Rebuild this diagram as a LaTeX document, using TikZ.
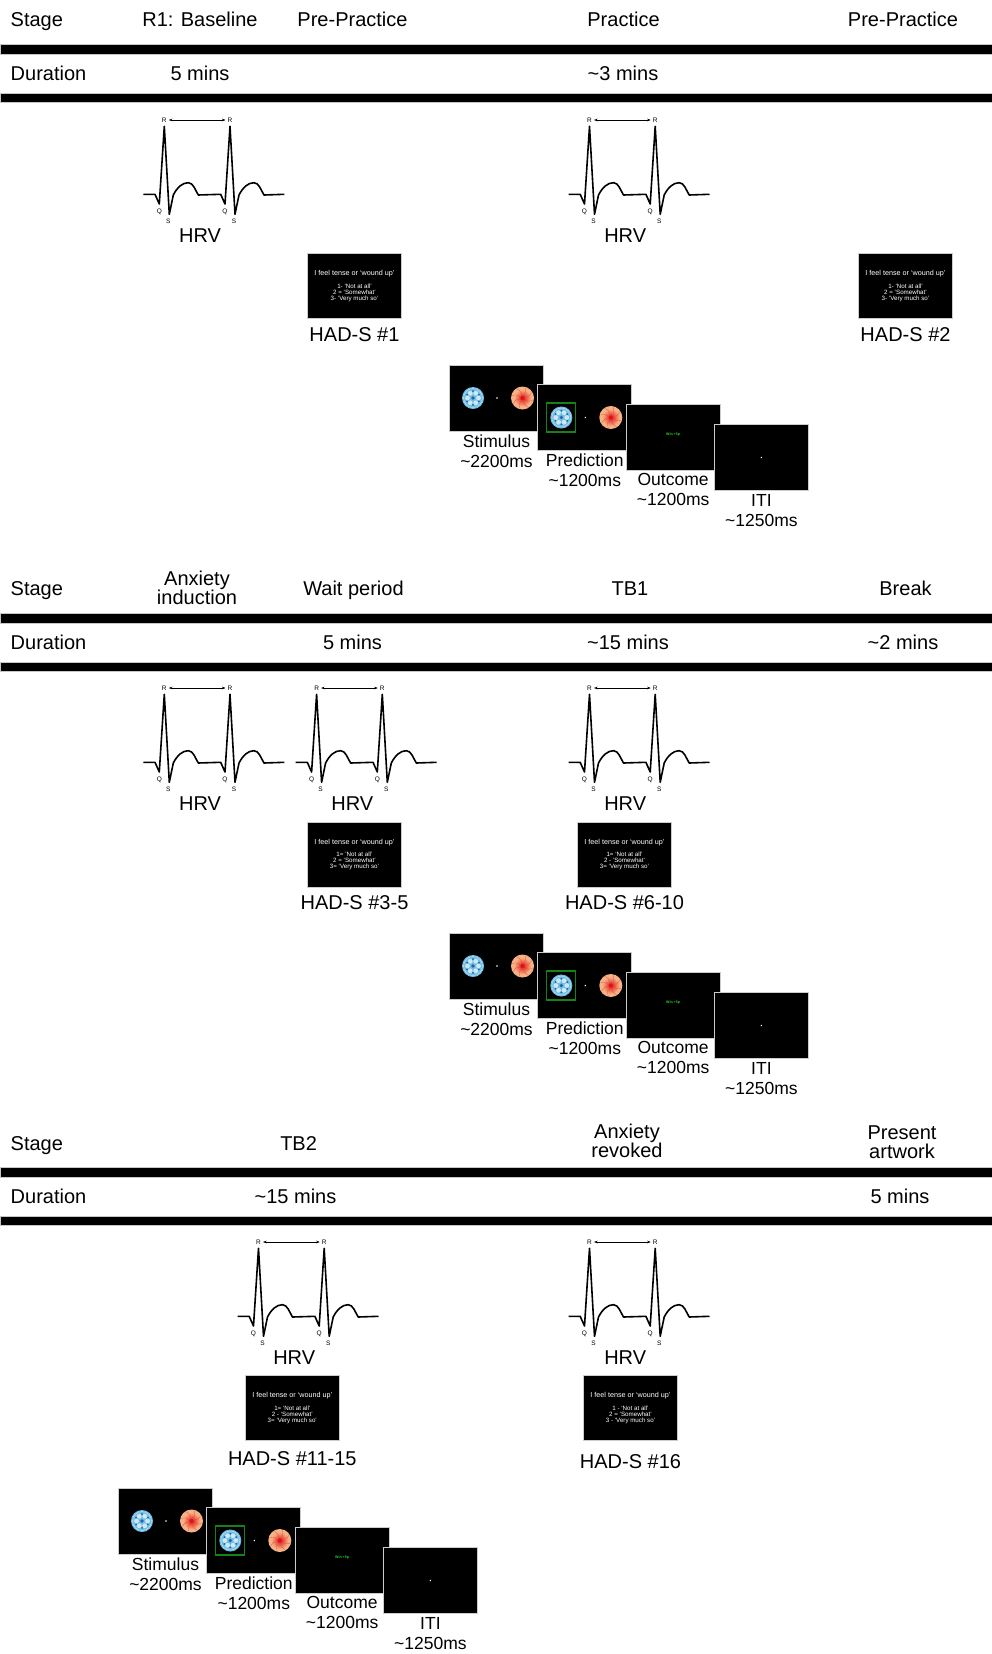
\documentclass[tikz,border=0pt]{standalone}
\usepackage{fontspec}
\setmainfont{Liberation Sans}
\usetikzlibrary{arrows.meta,positioning}
\definecolor{ballblue}{RGB}{112,190,228}
\definecolor{balldark}{RGB}{40,95,170}
\definecolor{peach}{RGB}{246,178,132}
\definecolor{ballred}{RGB}{225,20,20}
\definecolor{pickgreen}{RGB}{20,130,20}
\definecolor{wingreen}{RGB}{40,210,40}

\begin{document}
\begin{tikzpicture}[
  x=1pt, y=-1pt,
  every node/.style={inner sep=0pt},
  hdr/.style={font=\fontsize{20}{19}\selectfont, align=center},
  bar/.style={fill=black, draw=gray!45, line width=0.6pt},
  ecgline/.style={line width=1.6pt, line join=round},
  wave/.style={font=\fontsize{6.5}{7}\selectfont},
  rr/.style={<->, >={Stealth[length=3.5pt,width=2.6pt]}, line width=0.45pt, shorten <=2pt, shorten >=2pt},
  screen/.style={rectangle, fill=black, draw=gray!40, line width=0.7pt, minimum width=94pt, minimum height=66pt},
  hadsbox/.style={rectangle, fill=black, draw=gray!40, line width=0.7pt, minimum width=94pt, minimum height=65pt, text=white, align=center, font=\fontsize{6.2}{6}\selectfont},
  tasklbl/.style={font=\fontsize{17.5}{20}\selectfont, align=center, anchor=north},
  pickbox/.style={draw=pickgreen, line width=1.1pt},
  wintext/.style={text=wingreen, font=\fontsize{3.6}{4}\selectfont\bfseries},
  % ---- cue images ----
  blueball/.pic={
    \fill[ballblue] (0,0) circle (11pt);
    \foreach \a in {0,60,...,300} \fill[white!65!ballblue] (\a:5.5) circle (2.4pt);
    \foreach \a in {30,90,...,330} \fill[balldark] (\a:6.8) circle (1pt);
    \fill[balldark] (0,0) circle (1.8pt);
    \draw[white!60!ballblue, line width=0.4pt] (0,0) circle (9.5pt);
  },
  orangeball/.pic={
    \fill[peach] (0,0) circle (11.5pt);
    \shade[inner color=ballred, outer color=peach] (0,0) circle (8.5pt);
    \foreach \a in {0,45,...,315} \draw[ballred!80, line width=0.3pt] (\a:2) .. controls (\a+35:6) .. (\a+15:10.5);
    \fill[ballred] (0,0) circle (2.2pt);
  },
  % ---- two heart beats, origin at first R peak on the baseline ----
  ecg/.pic={
    \draw[ecgline] (-21,0) -- (-9.3,0) -- (-5,9.7) -- (0,-68) -- (5,20) -- (9,0.7)
      .. controls (13,-7) and (18,-11.6) .. (24,-11.6)
      .. controls (29,-11.6) and (31,-4) .. (34,0.7)
      -- (56.4,0) -- (60.7,9.7) -- (65.7,-68) -- (70.7,20) -- (74.7,0.7)
      .. controls (78.7,-7) and (83.7,-11.6) .. (89.7,-11.6)
      .. controls (94.7,-11.6) and (96.7,-4) .. (99.7,0.7) -- (120,0);
    \node[wave] (-r1) at (0,-74.3) {R};
    \node[wave] (-r2) at (65.7,-74.3) {R};
    \node[wave] (-q1) at (-5,18) {Q};
    \node[wave] (-s1) at (4,27.4) {S};
    \node[wave] (-q2) at (60.7,18) {Q};
    \node[wave] (-s2) at (69.7,27.4) {S};
    \draw[rr] (-r1) -- (-r2);
    \node[hdr, anchor=base] (-hrv) at (35.7,48) {HRV};
  },
  % ---- one trial: stimulus, prediction, outcome, ITI ----
  trials/.pic={
    \node[screen] (-stim) at (0,0) {};
    \pic at (-23.5,0) {blueball};
    \fill[white] (0.5,0) circle (0.8pt);
    \pic at (26,0) {orangeball};
    \node[tasklbl] (-stimlbl) at ([yshift=-3pt]-stim.south) {Stimulus\\\textasciitilde2200ms};
    \node[screen] (-pred) at (88.3,19.5) {};
    \pic at (64.8,19.5) {blueball};
    \draw[pickbox] (50.3,5) rectangle (79.3,34);
    \fill[white] (88.8,19.5) circle (0.8pt);
    \pic at (114.3,19.5) {orangeball};
    \node[tasklbl] (-predlbl) at ([yshift=-3pt]-pred.south) {Prediction\\\textasciitilde1200ms};
    \node[screen] (-out) at (176.6,39) {};
    \node[wintext] (-win) at (176.6,37) {Win +5p};
    \node[tasklbl] (-outlbl) at ([yshift=-3pt]-out.south) {Outcome\\\textasciitilde1200ms};
    \node[screen] (-iti) at (264.9,59.5) {};
    \fill[white] (264.9,59.5) circle (0.8pt);
    \node[tasklbl] (-itilbl) at ([yshift=-3pt]-iti.south) {ITI\\\textasciitilde1250ms};
  },
]
\fill[white] (0,0) rectangle (992,1654);
\useasboundingbox (0,0) rectangle (992,1654);

% ---- block 1: baseline and practice ----
\node[hdr, anchor=base west] (st1) at (10.5,27) {Stage};
\node[hdr, anchor=base] (base) at (200,27) {R1: Baseline};
\node[hdr, anchor=base] (prep1) at (352.5,27) {Pre-Practice};
\node[hdr, anchor=base] (prac) at (623.5,27) {Practice};
\node[hdr, anchor=base] (prep2) at (903,27) {Pre-Practice};
\fill[bar] (0,44) rectangle (992,54);
\node[hdr, anchor=base west] (du1) at (10.5,81) {Duration};
\node[hdr, anchor=base] (dbase) at (200,81) {5 mins};
\node[hdr, anchor=base] (dprac) at (623,81) {\textasciitilde3 mins};
\fill[bar] (0,93) rectangle (992,102);

\pic (e1) at (164.3,194.3) {ecg};
\pic (e2) at (589.5,194.3) {ecg};

\node[hadsbox] (h1) at (354.5,286) {{\fontsize{7.2}{6}\selectfont I feel tense or `wound up'}\\[6.9pt]1- `Not at all'\\2 = `Somewhat'\\3- `Very much so'};
\node[hdr, below=8pt of h1] (h1lbl) {HAD-S \#1};
\node[hadsbox] (h2) at (905.5,286) {{\fontsize{7.2}{6}\selectfont I feel tense or `wound up'}\\[6.9pt]1- `Not at all'\\2 = `Somewhat'\\3- `Very much so'};
\node[hdr, below=8pt of h2] (h2lbl) {HAD-S \#2};

\pic (t1) at (496.5,398) {trials};

% ---- block 2: anxiety induction and TB1 ----
\node[hdr, anchor=base west] (st2) at (10.5,595) {Stage};
\node[hdr] (anx) at (197,587.5) {Anxiety\\induction};
\node[hdr, anchor=base] (wait) at (353.5,595) {Wait period};
\node[hdr, anchor=base] (tb1) at (630,595) {TB1};
\node[hdr, anchor=base] (brk) at (905.5,595) {Break};
\fill[bar] (0,613) rectangle (992,623);
\node[hdr, anchor=base west] (du2) at (10.5,649) {Duration};
\node[hdr, anchor=base] (dwait) at (352.5,649) {5 mins};
\node[hdr, anchor=base] (dtb1) at (628,649) {\textasciitilde15 mins};
\node[hdr, anchor=base] (dbrk) at (903,649) {\textasciitilde2 mins};
\fill[bar] (0,662) rectangle (992,671);

\pic (e3) at (164.3,762.3) {ecg};
\pic (e4) at (316.6,762.3) {ecg};
\pic (e5) at (589.5,762.3) {ecg};

\node[hadsbox] (h3) at (354.5,854.5) {{\fontsize{7.2}{6}\selectfont I feel tense or `wound up'}\\[6.9pt]1= `Not at all'\\2 = `Somewhat'\\3= `Very much so'};
\node[hdr, below=8pt of h3] (h3lbl) {HAD-S \#3-5};
\node[hadsbox] (h4) at (624.5,854.5) {{\fontsize{7.2}{6}\selectfont I feel tense or `wound up'}\\[6.9pt]1= `Not at all'\\2 - `Somewhat'\\3= `Very much so'};
\node[hdr, below=8pt of h4] (h4lbl) {HAD-S \#6-10};

\pic (t2) at (496.5,966) {trials};

% ---- block 3: TB2, revoke, artwork ----
\node[hdr, anchor=base west] (st3) at (10.5,1150) {Stage};
\node[hdr, anchor=base] (tb2) at (298.6,1150) {TB2};
\node[hdr] (rev) at (627,1140.8) {Anxiety\\revoked};
\node[hdr] (art) at (902,1142.7) {Present\\artwork};
\fill[bar] (0,1167) rectangle (992,1177);
\node[hdr, anchor=base west] (du3) at (10.5,1203) {Duration};
\node[hdr, anchor=base] (dtb2) at (295.5,1203) {\textasciitilde15 mins};
\node[hdr, anchor=base] (dart) at (900,1203) {5 mins};
\fill[bar] (0,1216) rectangle (992,1225);

\pic (e6) at (258.5,1316.3) {ecg};
\pic (e7) at (589.5,1316.3) {ecg};

\node[hadsbox] (h5) at (292.3,1408) {{\fontsize{7.2}{6}\selectfont I feel tense or `wound up'}\\[6.9pt]1= `Not at all'\\2 - `Somewhat'\\3= `Very much so'};
\node[hdr, below=10pt of h5] (h5lbl) {HAD-S \#11-15};
\node[hadsbox] (h6) at (630.5,1408) {{\fontsize{7.2}{6}\selectfont I feel tense or `wound up'}\\[6.9pt]1 - `Not at all'\\2 = `Somewhat'\\3 - `Very much so'};
\node[hdr, below=13pt of h6] (h6lbl) {HAD-S \#16};

\pic (t3) at (165.5,1521) {trials};

\end{tikzpicture}
\end{document}
